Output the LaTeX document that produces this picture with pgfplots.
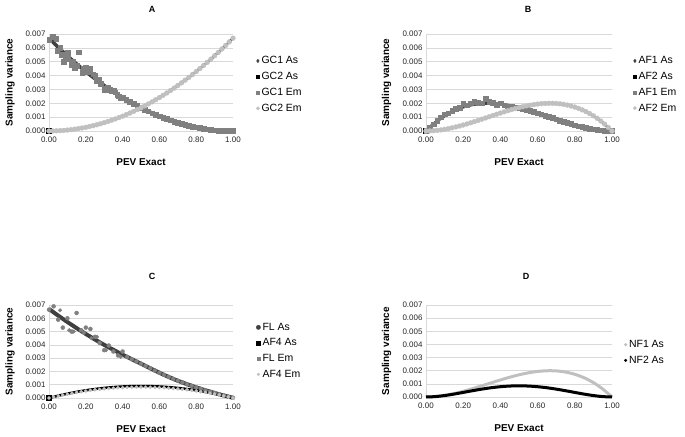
\documentclass[border=0pt]{standalone}
\usepackage{fontspec}
\setmainfont{Liberation Sans}
\usepackage{pgfplots}
\usepackage{pgfplotstable}
\pgfplotsset{compat=1.18}

\definecolor{dk}{HTML}{404040}
\definecolor{md}{HTML}{808080}
\definecolor{lt}{HTML}{C0C0C0}

% panel A: x, GC2 (rising), GC1 (falling), GC1 Em
\pgfplotstableread{
x up down em
0.00 0.000000 0.006700 0.00660
0.02 0.000003 0.006435 0.00680
0.04 0.000011 0.006175 0.00665
0.06 0.000024 0.005920 0.00600
0.08 0.000043 0.005671 0.00500
0.10 0.000067 0.005427 0.00565
0.12 0.000096 0.005188 0.00480
0.14 0.000131 0.004955 0.00455
0.16 0.000172 0.004728 0.00570
0.18 0.000217 0.004505 0.00420
0.20 0.000268 0.004288 0.00455
0.22 0.000324 0.004076 0.00450
0.24 0.000386 0.003870 0.00410
0.26 0.000453 0.003669 0.00365
0.28 0.000525 0.003473 0.00340
0.30 0.000603 0.003283 0.00300
0.32 0.000686 0.003098 0.00315
0.34 0.000775 0.002919 0.00290
0.36 0.000868 0.002744 0.00280
0.38 0.000967 0.002575 0.00250
0.40 0.001072 0.002412 0.002412
0.42 0.001182 0.002254 0.002254
0.44 0.001297 0.002101 0.002101
0.46 0.001418 0.001954 0.001954
0.48 0.001544 0.001812 0.001812
0.50 0.001675 0.001675 0.001675
0.52 0.001812 0.001544 0.001544
0.54 0.001954 0.001418 0.001418
0.56 0.002101 0.001297 0.001297
0.58 0.002254 0.001182 0.001182
0.60 0.002412 0.001072 0.001072
0.62 0.002575 0.000967 0.000967
0.64 0.002744 0.000868 0.000868
0.66 0.002919 0.000775 0.000775
0.68 0.003098 0.000686 0.000686
0.70 0.003283 0.000603 0.000603
0.72 0.003473 0.000525 0.000525
0.74 0.003669 0.000453 0.000453
0.76 0.003870 0.000386 0.000386
0.78 0.004076 0.000324 0.000324
0.80 0.004288 0.000268 0.000268
0.82 0.004505 0.000217 0.000217
0.84 0.004728 0.000172 0.000172
0.86 0.004955 0.000131 0.000131
0.88 0.005188 0.000096 0.000096
0.90 0.005427 0.000067 0.000067
0.92 0.005671 0.000043 0.000043
0.94 0.005920 0.000024 0.000024
0.96 0.006175 0.000011 0.000011
0.98 0.006435 0.000003 0.000003
1.00 0.006700 0.000000 0.000000
}\tA

% extra scattered GC1 Em points
\pgfplotstableread{
x y
0.045 0.0058
0.07 0.0055
0.09 0.0053
0.105 0.0052
0.13 0.0050
0.15 0.0047
0.19 0.0045
0.21 0.0043
0.25 0.0040
0.27 0.0037
0.31 0.0031
0.33 0.0030
0.35 0.0029
0.37 0.0026
0.39 0.0024
}\tAs

% panel B: x, AF1, AF2, AF1 Em
\pgfplotstableread{
x af1 af2 em
0.00 0.000000 0.000000 0.000000
0.02 0.000259 0.000005 0.000280
0.04 0.000498 0.000021 0.000500
0.06 0.000716 0.000046 0.000750
0.08 0.000914 0.000079 0.001000
0.10 0.001094 0.000122 0.001200
0.12 0.001255 0.000171 0.001280
0.14 0.001398 0.000228 0.001450
0.16 0.001524 0.000290 0.001600
0.18 0.001634 0.000359 0.001700
0.20 0.001728 0.000432 0.001950
0.22 0.001807 0.000510 0.001850
0.24 0.001871 0.000591 0.002000
0.26 0.001922 0.000675 0.002100
0.28 0.001960 0.000762 0.002050
0.30 0.001985 0.000851 0.002000
0.32 0.001998 0.000940 0.002350
0.34 0.001999 0.001030 0.002100
0.36 0.001991 0.001120 0.002050
0.38 0.001972 0.001209 0.001900
0.40 0.001944 0.001296 0.002000
0.42 0.001907 0.001381 0.001850
0.44 0.001863 0.001464 0.001800
0.46 0.001811 0.001543 0.001780
0.48 0.001752 0.001617 0.001720
0.50 0.001688 0.001688 0.001688
0.52 0.001617 0.001752 0.001617
0.54 0.001543 0.001811 0.001543
0.56 0.001464 0.001863 0.001464
0.58 0.001381 0.001907 0.001381
0.60 0.001296 0.001944 0.001296
0.62 0.001209 0.001972 0.001209
0.64 0.001120 0.001991 0.001120
0.66 0.001030 0.001999 0.001030
0.68 0.000940 0.001998 0.000940
0.70 0.000851 0.001985 0.000851
0.72 0.000762 0.001960 0.000762
0.74 0.000675 0.001922 0.000675
0.76 0.000591 0.001871 0.000591
0.78 0.000510 0.001807 0.000510
0.80 0.000432 0.001728 0.000432
0.82 0.000359 0.001634 0.000359
0.84 0.000290 0.001524 0.000290
0.86 0.000228 0.001398 0.000228
0.88 0.000171 0.001255 0.000171
0.90 0.000122 0.001094 0.000122
0.92 0.000079 0.000914 0.000079
0.94 0.000046 0.000716 0.000046
0.96 0.000021 0.000498 0.000021
0.98 0.000005 0.000259 0.000005
1.00 0.000000 0.000000 0.000000
}\tB

% panel C: x, FL As, FL Em, AF4 As, AF4 Em
\pgfplotstableread{
x fl flem af4 af4em
0.000 0.00670 0.00665 0.000000 0.000000
0.025 0.00645 0.00690 0.000088 0.000080
0.050 0.00620 0.00590 0.000171 0.000155
0.075 0.00596 0.00530 0.000250 0.000228
0.100 0.00572 0.00600 0.000324 0.000295
0.125 0.00549 0.00500 0.000394 0.000358
0.150 0.00526 0.00640 0.000459 0.000418
0.175 0.00504 0.00510 0.000520 0.000473
0.200 0.00482 0.00530 0.000576 0.000524
0.225 0.00461 0.00520 0.000628 0.000571
0.250 0.00440 0.00460 0.000675 0.000614
0.275 0.00420 0.00415 0.000718 0.000653
0.300 0.00400 0.00360 0.000756 0.000688
0.325 0.00381 0.00395 0.000790 0.000719
0.350 0.00363 0.00350 0.000819 0.000745
0.375 0.00344 0.00320 0.000844 0.000768
0.400 0.00326 0.00350 0.000864 0.000786
0.425 0.00309 0.00309 0.000880 0.000801
0.450 0.00292 0.00292 0.000891 0.000811
0.475 0.00275 0.00275 0.000898 0.000817
0.500 0.00258 0.00258 0.000900 0.000819
0.525 0.00241 0.00241 0.000898 0.000817
0.550 0.00224 0.00224 0.000891 0.000811
0.575 0.00207 0.00207 0.000880 0.000801
0.600 0.00190 0.00190 0.000864 0.000786
0.625 0.00174 0.00174 0.000844 0.000768
0.650 0.00159 0.00159 0.000819 0.000745
0.675 0.00144 0.00144 0.000790 0.000719
0.700 0.00130 0.00130 0.000756 0.000688
0.725 0.00117 0.00117 0.000718 0.000653
0.750 0.00104 0.00104 0.000675 0.000614
0.775 0.00092 0.00092 0.000628 0.000571
0.800 0.00080 0.00080 0.000576 0.000524
0.825 0.00069 0.00069 0.000520 0.000473
0.850 0.00058 0.00058 0.000459 0.000418
0.875 0.00048 0.00048 0.000394 0.000358
0.900 0.00038 0.00038 0.000324 0.000295
0.925 0.00028 0.00028 0.000250 0.000228
0.950 0.00019 0.00019 0.000171 0.000155
0.975 0.00010 0.00010 0.000088 0.000080
1.000 0.00002 0.00002 0.000000 0.000000
}\tC

\pgfplotstableread{
x y
0.060 0.0066
0.049 0.0059
0.110 0.0051
0.120 0.0050
0.135 0.0050
0.190 0.0049
0.230 0.0045
0.260 0.0046
0.310 0.0036
0.390 0.0031
}\tCs

% panel D: x, NF1 As, NF2 As
\pgfplotstableread{
x nf1 nf2
0.00 0.000000 0.000000
0.05 0.000032 0.000031
0.10 0.000122 0.000110
0.15 0.000258 0.000221
0.20 0.000432 0.000348
0.25 0.000633 0.000478
0.30 0.000851 0.000600
0.35 0.001075 0.000704
0.40 0.001296 0.000783
0.45 0.001504 0.000833
0.50 0.001688 0.000850
0.55 0.001838 0.000833
0.60 0.001944 0.000783
0.65 0.001996 0.000704
0.70 0.001985 0.000600
0.75 0.001898 0.000478
0.80 0.001728 0.000348
0.85 0.001463 0.000221
0.90 0.001094 0.000110
0.95 0.000609 0.000031
1.00 0.000000 0.000000
}\tD

\pgfplotsset{
  /pgf/number format/assume math mode=true,
  lg/.style n args={3}{legend image code/.code={
    \draw[draw=#1, fill=#1, line width=0.3pt, solid]
      plot[only marks, mark=#2, mark size=#3] coordinates {(0.1cm,0cm)};}},
  panel/.style={
    scale only axis, anchor=south west, clip=false,
    xmin=0, xmax=1, ymin=0, ymax=0.007,
    xtick={0,0.2,0.4,0.6,0.8,1},
    ytick={0,0.001,0.002,0.003,0.004,0.005,0.006,0.007},
    scaled x ticks=false, scaled y ticks=false,
    xticklabel style={/pgf/number format/fixed, /pgf/number format/fixed zerofill, /pgf/number format/precision=2, yshift=-2bp},
    yticklabel style={/pgf/number format/fixed, /pgf/number format/fixed zerofill, /pgf/number format/precision=3},
    tick label style={font=\fontsize{8}{9}\selectfont, text=black!85},
    ymajorgrids, grid style={draw=black!15, line width=0.5pt},
    axis lines*=left, axis line style={draw=black!15, -},
    major tick length=0pt,
    xlabel={PEV Exact}, ylabel={Sampling variance},
    label style={font=\bfseries\fontsize{10}{12}\selectfont},
    xlabel style={at={(axis description cs:0.5,0)}, anchor=center, yshift=-31bp},
    ylabel style={at={(axis description cs:-0.212,0.5)}, anchor=center},
    legend style={draw=none, fill=none, inner sep=0pt, anchor=north west,
      font=\fontsize{10.5}{12}\selectfont, row sep=3bp},
    legend cell align=left,
  }
}

\begin{document}
\begin{tikzpicture}
\path (0,0) rectangle (685bp,437bp);

% A
\begin{axis}[panel, at={(49bp,306bp)}, width=184bp, height=97bp,
  legend style={at={(axis description cs:1.125,0.79)}}]
\addplot[dk, line width=3.5bp, smooth, lg={dk}{diamond*}{1.8bp}] table[x=x,y=down]{\tA};
\addplot[black, line width=2.2bp, smooth, mark=square*, mark indices={1},
  mark options={line width=0.3pt}, mark size=2.5bp, lg={black}{square*}{1.5bp}] table[x=x,y=up]{\tA};
\addplot[md, only marks, mark=square*, mark size=2.3bp, lg={md}{square*}{1.5bp}] table[x=x,y=em]{\tA};
\addplot[lt, only marks, mark=*, mark size=2.4bp, lg={lt}{*}{1.7bp}] table[x=x,y=up]{\tA};
\addplot[md, only marks, mark=square*, mark size=2.3bp, forget plot] table[x=x,y=y]{\tAs};
\legend{GC1 As, GC2 As, GC1 Em, GC2 Em}
\end{axis}

% B
\begin{axis}[panel, at={(426bp,306bp)}, width=186bp, height=97bp,
  legend style={at={(axis description cs:1.113,0.79)}}]
\addplot[dk, line width=3bp, smooth, lg={dk}{diamond*}{1.8bp}] table[x=x,y=af1]{\tB};
\addplot[black, line width=2.2bp, smooth, mark=square*, mark indices={1},
  mark options={line width=0.3pt}, mark size=2.5bp, lg={black}{square*}{1.5bp}] table[x=x,y=af2]{\tB};
\addplot[md, only marks, mark=square*, mark size=2.3bp, lg={md}{square*}{1.5bp}] table[x=x,y=em]{\tB};
\addplot[lt, only marks, mark=*, mark size=2.4bp, lg={lt}{*}{1.7bp}] table[x=x,y=af2]{\tB};
\legend{AF1 As, AF2 As, AF1 Em, AF2 Em}
\end{axis}

% C
\begin{axis}[panel, at={(49bp,39bp)}, width=184bp, height=93bp,
  legend style={at={(axis description cs:1.125,0.83)}}]
\addplot[dk, line width=4bp, smooth, lg={dk}{*}{2.2bp}] table[x=x,y=fl]{\tC};
\addplot[black, line width=2.5bp, smooth, mark=square*, mark indices={1},
  mark options={line width=0.3pt}, mark size=2.5bp, lg={black}{square*}{2bp}] table[x=x,y=af4]{\tC};
\addplot[md, only marks, mark=*, mark size=2bp, lg={md}{square*}{1.3bp}] table[x=x,y=flem]{\tC};
\addplot[lt, only marks, mark=*, mark size=1.6bp, lg={lt}{*}{1.5bp}] table[x=x,y=af4em]{\tC};
\addplot[md, only marks, mark=*, mark size=1.8bp, forget plot] table[x=x,y=y]{\tCs};
\legend{FL As, AF4 As, FL Em, AF4 Em}
\end{axis}

% D
\begin{axis}[panel, at={(426bp,40bp)}, width=186bp, height=92bp,
  legend style={at={(axis description cs:1.065,0.64)}}]
\addplot[lt, line width=3bp, smooth, lg={lt}{*}{1.4bp}] table[x=x,y=nf1]{\tD};
\addplot[black, line width=3bp, smooth, lg={black}{*}{1.4bp}] table[x=x,y=nf2]{\tD};
\legend{NF1 As, NF2 As}
\end{axis}

\node[font=\bfseries\fontsize{9}{10}\selectfont] at (152bp,428bp) {A};
\node[font=\bfseries\fontsize{9}{10}\selectfont] at (528bp,428bp) {B};
\node[font=\bfseries\fontsize{9}{10}\selectfont] at (152bp,161bp) {C};
\node[font=\bfseries\fontsize{9}{10}\selectfont] at (526bp,161bp) {D};
\end{tikzpicture}
\end{document}
